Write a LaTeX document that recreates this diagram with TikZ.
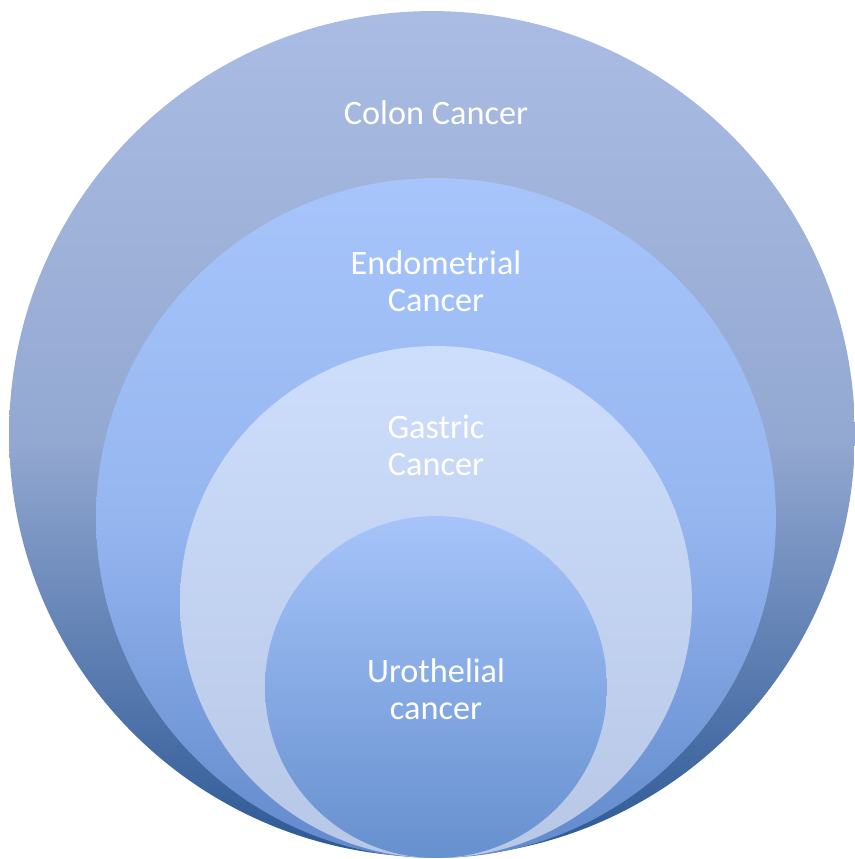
\documentclass[tikz,border=0pt]{standalone}
\usepackage{fontspec}
\setmainfont{Carlito}
\usepackage{tikz}
\usetikzlibrary{positioning}
\usepackage{xcolor}
\definecolor{colontop}{RGB}{170,188,227}
\definecolor{colonmid}{RGB}{148,169,210}
\definecolor{colonbot}{RGB}{44,88,149}
\definecolor{endotop}{RGB}{167,197,251}
\definecolor{endomid}{RGB}{150,182,240}
\definecolor{endobot}{RGB}{97,137,203}
\definecolor{gastrictop}{RGB}{205,222,252}
\definecolor{gastricbot}{RGB}{183,199,229}
\definecolor{urotop}{RGB}{166,196,250}
\definecolor{urobot}{RGB}{102,144,206}

\tikzset{
  ring/.style={draw=none},
  ringlabel/.style={text=white, align=center, font=\fontsize{19.5}{21}\selectfont}
}

\begin{document}
\begin{tikzpicture}[x=0.02cm, y=-0.02cm]
  \useasboundingbox (0,0) rectangle (855,859);
  % nested circles, all touching at the bottom
  \shade[ring, top color=colontop, bottom color=colonbot, middle color=colonmid]
        (432,434) circle[radius=8.46cm];
  \shade[ring, top color=endotop, bottom color=endobot, middle color=endomid]
        (436,518) circle[radius=6.80cm];
  \shade[ring, top color=gastrictop, bottom color=gastricbot]
        (436,602) circle[radius=5.12cm];
  \shade[ring, top color=urotop, bottom color=urobot]
        (436,687) circle[radius=3.42cm];
  % labels
  \node[ringlabel] (colon) at (436,113) {Colon Cancer};
  \node[ringlabel] (endo) at (436,281) {Endometrial\\Cancer};
  \node[ringlabel] (gastric) at (436,445) {Gastric\\Cancer};
  \node[ringlabel] (uro) at (436,689) {Urothelial\\cancer};
\end{tikzpicture}
\end{document}
